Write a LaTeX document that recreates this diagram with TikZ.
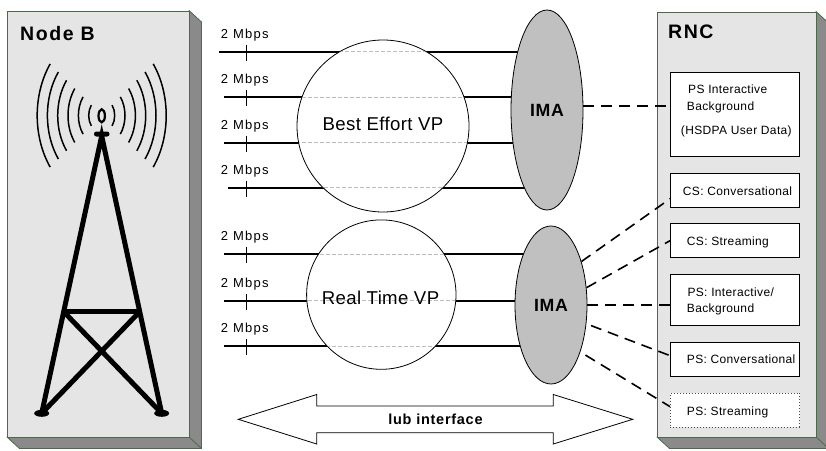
\documentclass[tikz,border=0pt]{standalone}
\usepackage{fontspec}
\setmainfont{Liberation Sans}
\newfontfamily\titlefamily[LetterSpace=8]{Liberation Sans}
\newfontfamily\ratefamily[LetterSpace=10]{Liberation Sans}
\newfontfamily\svcfamily[LetterSpace=3]{Liberation Sans}
\newfontfamily\vpfamily[LetterSpace=2]{Liberation Sans}
\newfontfamily\imafamily[LetterSpace=4]{Liberation Sans}
\newfontfamily\iubfamily[LetterSpace=5]{Liberation Sans}
\usetikzlibrary{shapes.geometric,calc}

\definecolor{faceGray}{HTML}{E5E5E5}
\definecolor{sideGray}{HTML}{8A8A8A}
\definecolor{edgeGreen}{HTML}{4A6A4A}
\definecolor{imaGray}{HTML}{C0C0C0}
\definecolor{innerGray}{HTML}{BDBDBD}

\begin{document}
\begin{tikzpicture}[x=1pt,y=-1pt,
  panelside/.style={fill=sideGray,draw=edgeGreen,line width=0.8pt,line join=round},
  paneledge/.style={draw=edgeGreen,line width=0.8pt},
  panelface/.style={rectangle,fill=faceGray,draw=edgeGreen,line width=0.8pt,inner sep=0pt,anchor=north west},
  paneltitle/.style={anchor=base west,inner sep=0pt,font={\titlefamily\bfseries\fontsize{19.5}{22}\selectfont}},
  towerbar/.style={line width=5pt},
  wave/.style={line width=1.5pt},
  trunk/.style={line width=1.8pt},
  trunkinside/.style={draw=innerGray,line width=0.9pt,dash pattern=on 4pt off 2pt},
  ratetick/.style={line width=0.8pt},
  ratelabel/.style={anchor=base west,inner sep=0pt,font={\ratefamily\fontsize{13}{15}\selectfont}},
  vpcircle/.style={circle,draw,fill=white,line width=0.8pt,inner sep=0pt},
  vptext/.style={anchor=base,inner sep=0pt,font={\vpfamily\fontsize{18.6}{21}\selectfont}},
  ima/.style={ellipse,draw,fill=imaGray,line width=0.8pt,inner sep=0pt,
              font={\imafamily\bfseries\fontsize{17.7}{20}\selectfont}},
  svcbox/.style={rectangle,draw,fill=white,line width=0.8pt,anchor=north west,
                 minimum width=129.3pt,inner sep=0pt},
  svctext/.style={anchor=base west,inner sep=0pt,font={\svcfamily\fontsize{12}{14}\selectfont}},
  link/.style={line width=1.6pt,dash pattern=on 11pt off 7pt},
  iubarrow/.style={draw,fill=white,line width=0.8pt,line join=miter},
  iubtext/.style={anchor=base,inner sep=0pt,font={\iubfamily\bfseries\fontsize{14.5}{17}\selectfont}}
]
\useasboundingbox (0,0) rectangle (826,450);

% ---- Node B cabinet ----
\filldraw[panelside] (189,10.5) -- (201.5,22) -- (201.5,448.5) -- (19.5,448.5) -- (7,437) -- (189,437) -- cycle;
\draw[paneledge] (189,437) -- (201.5,448.5);
\node[panelface,minimum width=182pt,minimum height=426.5pt] (nodeb) at (7,10.5) {};
\node[paneltitle] (nodebtitle) at (20,40) {Node B};

% ---- RNC cabinet ----
\filldraw[panelside] (816,11.5) -- (828.5,23) -- (828.5,448.5) -- (669.5,448.5) -- (657,437) -- (816,437) -- cycle;
\draw[paneledge] (816,437) -- (828.5,448.5);
\node[panelface,minimum width=159pt,minimum height=425.5pt] (rnc) at (657,11.5) {};
\node[paneltitle] (rnctitle) at (668,38.3) {RNC};

% ---- radio mast ----
\draw[towerbar] (41.7,413.3) -- (101.7,136) -- (161.7,413.3);
\draw[towerbar] (63.7,311.7) -- (139.7,311.7);
\draw[towerbar] (63.7,311.7) -- (161.7,413.3);
\draw[towerbar] (139.7,311.7) -- (41.7,413.3);
\fill (41.7,413.3) ellipse [x radius=7.5, y radius=3.5];
\fill (161.7,413.3) ellipse [x radius=7.5, y radius=3.5];
\fill[rounded corners=2.4pt] (94,131.5) rectangle (109.5,136.5);
\draw[line width=2.2pt] (101.7,115.8) ellipse [x radius=3.2, y radius=6.5];
\coordinate (mast) at (101.7,115.5);
\foreach \r in {13,23.3,33.7,44,54.3,64.5}{
  \pgfmathsetmacro{\ry}{1.33*\r}
  \draw[wave] (mast) ++({\r*cos(143)},{\ry*sin(143)})
    arc[start angle=143, end angle=217, x radius=\r, y radius=\ry];
  \draw[wave] (mast) ++({\r*cos(-37)},{\ry*sin(-37)})
    arc[start angle=-37, end angle=37, x radius=\r, y radius=\ry];
}

% ---- E1 trunks ----
\coordinate (ima1c) at (547,110);
\coordinate (ima2c) at (551,305);
\foreach \y/\x [count=\i] in {51.7/219.3,97.3/224,142.7/224,187.7/228}{
  \coordinate (be\i) at (\x,\y);
  \draw[trunk] (be\i) -- (be\i -| ima1c);
}
\foreach \y/\x [count=\i] in {254.3/224,300.7/224,346/224}{
  \coordinate (rt\i) at (\x,\y);
  \draw[trunk] (rt\i) -- (rt\i -| ima2c);
}

% ---- virtual paths ----
\node[vpcircle,minimum size=172pt] (bevp) at (383,126) {};
\node[vpcircle,minimum size=149.4pt] (rtvp) at (381.3,294.6) {};
\begin{scope}
  \clip (383,126) circle (85.4);
  \foreach \i in {1,...,4} \draw[trunkinside] (be\i) -- (be\i -| ima1c);
\end{scope}
\begin{scope}
  \clip (381.3,294.6) circle (74.1);
  \foreach \i in {1,...,3} \draw[trunkinside] (rt\i) -- (rt\i -| ima2c);
\end{scope}
\node[vptext] (betext) at (383,130.6) {Best Effort VP};
\node[vptext] (rttext) at (380.5,304.3) {Real Time VP};

% ---- rate ticks and labels ----
\foreach \y [count=\i] in {51.7,97.3,142.7,187.7,254.3,300.7,346}{
  \draw[ratetick] (246.7,\y-7) -- (246.7,\y+9);
  \node[ratelabel] (rate\i) at (220.7,\y-13.7) {2 Mbps};
}

% ---- IMA groups ----
\node[ima,minimum width=72pt,minimum height=200pt] (ima1) at (ima1c) {IMA};
\node[ima,minimum width=72pt,minimum height=158pt] (ima2) at (ima2c) {IMA};

% ---- RNC traffic classes ----
\node[svcbox,minimum height=84pt] (psi) at (670,71.7) {};
\node[svcbox,minimum height=34pt] (cs1) at (670,172.7) {};
\node[svcbox,minimum height=34pt] (cs2) at (670,223.3) {};
\node[svcbox,minimum height=51pt] (psb) at (670,274.3) {};
\node[svcbox,minimum height=34pt] (psc) at (670,341.7) {};
\node[svcbox,minimum height=34pt,draw=black!70,dash pattern=on 1pt off 2pt] (pss) at (670,392.7) {};

\node[svctext] (psi1) at (688,93.3) {PS Interactive};
\node[svctext] (psi2) at (686.7,110) {Background};
\node[svctext] (psi3) at (680.7,134.3) {(HSDPA User Data)};
\node[svctext] (cs1t) at (682.7,195) {CS: Conversational};
\node[svctext] (cs2t) at (686.7,245) {CS: Streaming};
\node[svctext] (psb1) at (687.3,296) {PS: Interactive/};
\node[svctext] (psb2) at (686.7,312.5) {Background};
\node[svctext] (psct) at (686.7,363.6) {PS: Conversational};
\node[svctext] (psst) at (686.7,415) {PS: Streaming};

% ---- mappings ----
\draw[link] (ima1.6) -- (ima1.6 -| psi.west);
\draw[link] (ima2.55) -- ($(cs1.south west)!0.25!(cs1.north west)$);
\draw[link] (ima2.26) -- (cs2.west);
\draw[link] (ima2.east) -- (ima2.east -| psb.west);
\draw[link,shorten <=5pt] (ima2.-28) -- ($(psc.south west)!0.6!(psc.north west)$);
\draw[link,shorten <=6pt] (ima2.-58) -- ($(pss.south west)!0.6!(pss.north west)$);

% ---- Iub interface arrow ----
\filldraw[iubarrow] (238.3,419.3) -- (316.7,394.5) -- (316.7,406) -- (553.3,406) -- (553.3,394.5)
  -- (632.7,419.3) -- (553.3,444) -- (553.3,432.7) -- (316.7,432.7) -- (316.7,444) -- cycle;
\node[iubtext] (iub) at (435.5,424) {lub interface};
\end{tikzpicture}
\end{document}
